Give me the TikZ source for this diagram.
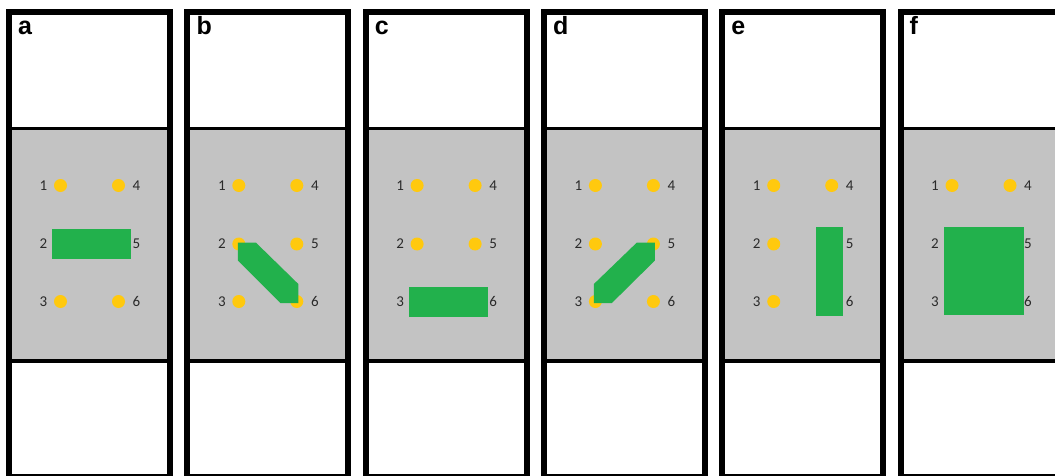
\documentclass[tikz,border=0pt]{standalone}
\usepackage{fontspec}
\setmainfont{Carlito}
\newfontfamily\panelfont{Liberation Sans}
\usetikzlibrary{calc}

\definecolor{wellgray}{HTML}{C3C3C3}
\definecolor{probegreen}{HTML}{22B14C}
\definecolor{pinyellow}{HTML}{FFC90E}
\definecolor{numgray}{HTML}{2A2A2A}

\tikzset{
  frame/.style={draw=black, line width=6pt},
  divider/.style={draw=black, line width=3.5pt},
  well/.style={circle, fill=pinyellow, minimum size=13pt, inner sep=0pt},
  num/.style={font=\fontsize{15}{17}\selectfont, text=numgray, inner sep=0pt},
  tag/.style={font=\panelfont\bfseries\fontsize{25}{28}\selectfont, anchor=base west, inner sep=0pt},
  probe/.style={fill=probegreen},
}

\begin{document}
\begin{tikzpicture}[x=1pt, y=-1pt]
  \useasboundingbox (0,0) rectangle (1055,476);
  \clip (0,0) rectangle (1055,476);

  % six panels: white top, grey well area, white bottom
  \foreach \p [count=\i from 0] in {a,b,c,d,e,f} {
    \pgfmathsetmacro\xl{6+178.3*\i}
    \pgfmathsetmacro\xc{\xl+83.5}
    \fill[wellgray] (\xl,128.5) rectangle ({\xl+167},361);
    \draw[divider] ({\xl+3},128.5) -- ({\xl+164},128.5);
    \draw[divider] ({\xl+3},361) -- ({\xl+164},361);
    \draw[frame] ({\xl+3},12) rectangle ({\xl+164},476.5);
    \node[tag] (tag-\p) at ({\xl+12},35) {\p};
    % pins 1-3 on the left, 4-6 on the right
    \foreach \r/\y in {1/185.5, 2/244, 3/301.5} {
      \node[well] (\p\r) at ({\xc-29},\y) {};
      \node[num] (\p\r-lbl) at ({\xc-46},\y) {\r};
    }
    \foreach \r/\y in {4/185.5, 5/244, 6/301.5} {
      \node[well] (\p\r) at ({\xc+29},\y) {};
      \node[num] (\p\r-lbl) at ({\xc+47},\y) {\r};
    }
  }

  % green probes over the pins
  \fill[probe] ($(a2)+(-8.5,-15)$) rectangle ($(a5)+(12.5,15)$);
  \fill[probe] ($(b2)+(-1,-1.5)$) -- ($(b2)+(17,-1.5)$) -- ($(b6)+(1.5,-17.5)$)
      -- ($(b6)+(1.5,1.5)$) -- ($(b6)+(-16.5,1.5)$) -- ($(b2)+(-1,16.5)$) -- cycle;
  \fill[probe] ($(c3)+(-8.5,-15)$) rectangle ($(c6)+(12.5,15)$);
  \fill[probe] ($(d5)+(-16.5,-1.5)$) -- ($(d5)+(1.5,-1.5)$) -- ($(d5)+(1.5,16.5)$)
      -- ($(d3)+(16.5,1.5)$) -- ($(d3)+(-1.5,1.5)$) -- ($(d3)+(-1.5,-17.5)$) -- cycle;
  \fill[probe] ($(e5)+(-15.5,-17)$) rectangle ($(e6)+(11.5,14)$);
  \fill[probe] ($(f2)+(-8.5,-17)$) rectangle ($(f6)+(13.5,13.5)$);
\end{tikzpicture}
\end{document}
